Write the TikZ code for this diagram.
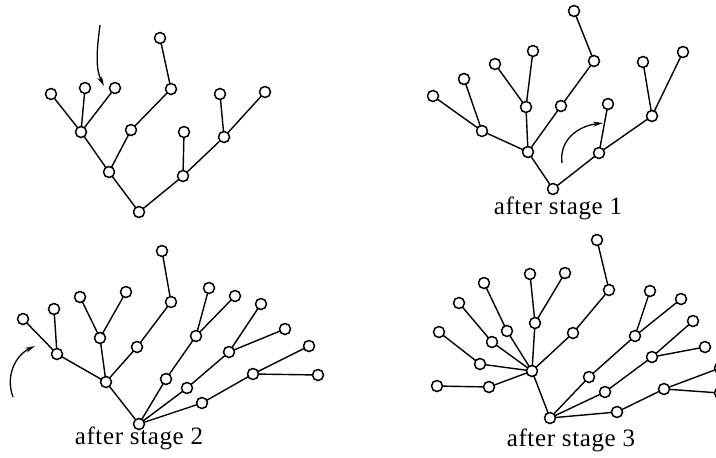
\documentclass[tikz,border=0pt]{standalone}
\usepackage{fontspec}
\setmainfont{Liberation Serif}
\usetikzlibrary{arrows.meta}
\tikzset{
  vtx/.style={circle,draw=black,fill=white,line width=1.5pt,minimum size=11pt,inner sep=0pt},
  edge/.style={line width=1.4pt},
  marker/.style={line width=1.3pt,-{Stealth[length=10pt,width=5pt]}},
  caption/.style={font=\fontsize{25}{28}\selectfont\addfontfeatures{LetterSpace=2.5},inner sep=0pt}
}
\begin{document}
\begin{tikzpicture}[x=1pt,y=-1pt]
\useasboundingbox (0,0) rectangle (716,458);
\clip (0,0) rectangle (716,458);
% ---------- tree 1 ----------
\foreach \n/\x/\y in {a1/139/212,a2/109/172,a3/183/176,a4/81/132,a5/131/130,a6/171/89,a7/160/38,
  a8/51/94,a9/85/88,a10/115/88,a11/184/132,a12/224/137,a13/220/94,a14/265/92}
  \coordinate (\n) at (\x,\y);
\foreach \u/\v in {a1/a2,a1/a3,a2/a4,a2/a5,a5/a6,a6/a7,a4/a8,a4/a9,a4/a10,a3/a11,a3/a12,a12/a13,a12/a14}
  \draw[edge] (\u) -- (\v);
\foreach \n in {a1,a2,a3,a4,a5,a6,a7,a8,a9,a10,a11,a12,a13,a14}
  \node[vtx] (n\n) at (\n) {};
\coordinate (s1) at (100,25);
\coordinate (e1) at (104,86);
\draw[marker] (s1) .. controls (96,55) and (96,70) .. (e1);
% ---------- tree 2 ----------
\foreach \n/\x/\y in {b1/553/189,b2/528/152,b3/599/153,b4/482/131,b5/526/107,b6/561/106,b7/433/96,
  b8/464/79,b9/495/64,b10/533/51,b11/594/61,b12/574/11,b13/608/104,b14/652/116,b15/643/62,b16/683/52}
  \coordinate (\n) at (\x,\y);
\foreach \u/\v in {b1/b2,b1/b3,b2/b4,b2/b5,b2/b6,b4/b7,b4/b8,b5/b9,b5/b10,b6/b11,b11/b12,b3/b13,b3/b14,b14/b15,b14/b16}
  \draw[edge] (\u) -- (\v);
\foreach \n in {b1,b2,b3,b4,b5,b6,b7,b8,b9,b10,b11,b12,b13,b14,b15,b16}
  \node[vtx] (n\n) at (\n) {};
\coordinate (s2) at (562,163);
\coordinate (e2) at (603,123);
\draw[marker] (s2) .. controls (559,140) and (578,126) .. (e2);
\node[caption] (t1) at (558,208) {after stage 1};
% ---------- tree 3 ----------
\foreach \n/\x/\y in {c1/139/424,c2/106/382,c3/57/354,c4/100/338,c5/137/347,c6/23/319,c7/54/309,
  c8/80/297,c9/126/292,c10/171/302,c11/162/251,c12/166/379,c13/187/388,c14/202/403,c15/196/336,
  c16/209/288,c17/235/296,c18/229/352,c19/261/304,c20/285/329,c21/253/374,c22/309/346,c23/318/375}
  \coordinate (\n) at (\x,\y);
\foreach \u/\v in {c1/c2,c2/c3,c2/c4,c2/c5,c3/c6,c3/c7,c4/c8,c4/c9,c5/c10,c10/c11,c1/c12,c1/c13,c1/c14,
  c12/c15,c15/c16,c15/c17,c13/c18,c18/c19,c18/c20,c14/c21,c21/c22,c21/c23}
  \draw[edge] (\u) -- (\v);
\foreach \n in {c1,c2,c3,c4,c5,c6,c7,c8,c9,c10,c11,c12,c13,c14,c15,c16,c17,c18,c19,c20,c21,c22,c23}
  \node[vtx] (n\n) at (\n) {};
\coordinate (s3) at (13,397);
\coordinate (e3) at (35,346);
\draw[marker] (s3) .. controls (5,375) and (16,355) .. (e3);
\node[caption] (t2) at (139,438) {after stage 2};
% ---------- tree 4 ----------
\foreach \n/\x/\y in {d1/550/418,d2/532/371,d3/489/387,d4/480/364,d5/492/342,d6/507/331,d7/535/323,
  d8/573/333,d9/437/386,d10/439/332,d11/459/303,d12/484/283,d13/530/274,d14/565/273,d15/609/290,
  d16/597/240,d17/589/377,d18/605/392,d19/617/412,d20/635/336,d21/650/291,d22/681/299,d23/652/357,
  d24/693/321,d25/705/347,d26/664/389,d27/720/368,d28/720/393}
  \coordinate (\n) at (\x,\y);
\foreach \u/\v in {d1/d2,d2/d3,d2/d4,d2/d5,d2/d6,d2/d7,d2/d8,d3/d9,d4/d10,d5/d11,d6/d12,d7/d13,d7/d14,
  d8/d15,d15/d16,d1/d17,d1/d18,d1/d19,d17/d20,d20/d21,d20/d22,d18/d23,d23/d24,d23/d25,d19/d26,d26/d27,d26/d28}
  \draw[edge] (\u) -- (\v);
\foreach \n in {d1,d2,d3,d4,d5,d6,d7,d8,d9,d10,d11,d12,d13,d14,d15,d16,d17,d18,d19,d20,d21,d22,d23,d24,d25,d26,d27,d28}
  \node[vtx] (n\n) at (\n) {};
\node[caption] (t3) at (571,440) {after stage 3};
\end{tikzpicture}
\end{document}
